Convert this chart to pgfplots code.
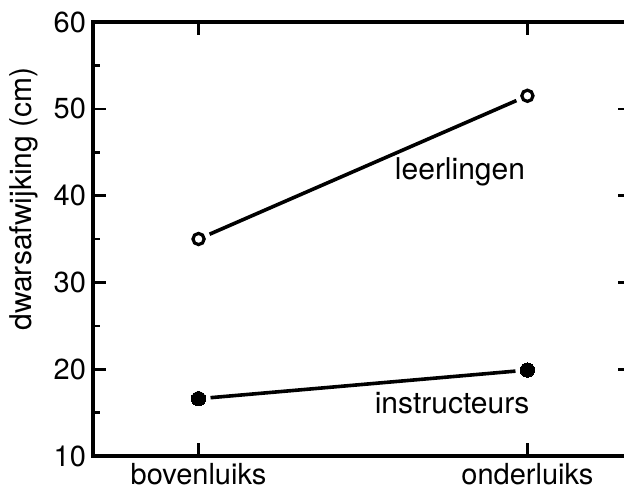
\documentclass[border=0pt]{standalone}
\usepackage{fontspec}
\setmainfont{TeX Gyre Heros}
\usepackage{pgfplots}
\pgfplotsset{compat=1.18}
\begin{document}
\begin{tikzpicture}
\begin{axis}[
  at={(0pt,0pt)}, anchor=south west,
  scale only axis, width=269pt, height=217pt,
  xmin=-0.321, xmax=1.315, ymin=10, ymax=60,
  xtick={0,1}, xticklabels={bovenluiks,onderluiks},
  ytick={10,20,...,60}, minor ytick={15,25,...,55},
  tick align=inside,
  major tick length=6.5pt, minor tick length=3.5pt,
  axis line style={line width=1.6pt},
  every tick/.style={black, line width=1.3pt},
  font=\fontsize{15}{18}\selectfont,
  ticklabel style={font=\fontsize{14.5}{17}\selectfont},
  /pgf/number format/assume math mode=true,
  ylabel={dwarsafwijking (cm)},
  ylabel style={at={(rel axis cs:-0.1283,0.592)}, anchor=center},
  clip=false,
]
\addplot[black, line width=1.8pt, shorten <=6pt, shorten >=6pt] coordinates {(0,35) (1,51.5)};
\addplot[black, only marks, mark=o, mark size=2.8pt, mark options={line width=1.6pt}] coordinates {(0,35) (1,51.5)};
\addplot[black, line width=1.8pt, shorten <=6pt, shorten >=6pt] coordinates {(0,16.6) (1,19.9)};
\addplot[black, only marks, mark=*, mark size=3.6pt, mark options={line width=0pt}] coordinates {(0,16.6) (1,19.9)};
\node[anchor=base] at (axis cs:0.795,41.9) {leerlingen};
\node[anchor=base] at (axis cs:0.771,14.95) {instructeurs};
\end{axis}
\pgfresetboundingbox
\useasboundingbox (-46.5pt,-16.5pt) rectangle (265.5pt,228pt);
\end{tikzpicture}
\end{document}
